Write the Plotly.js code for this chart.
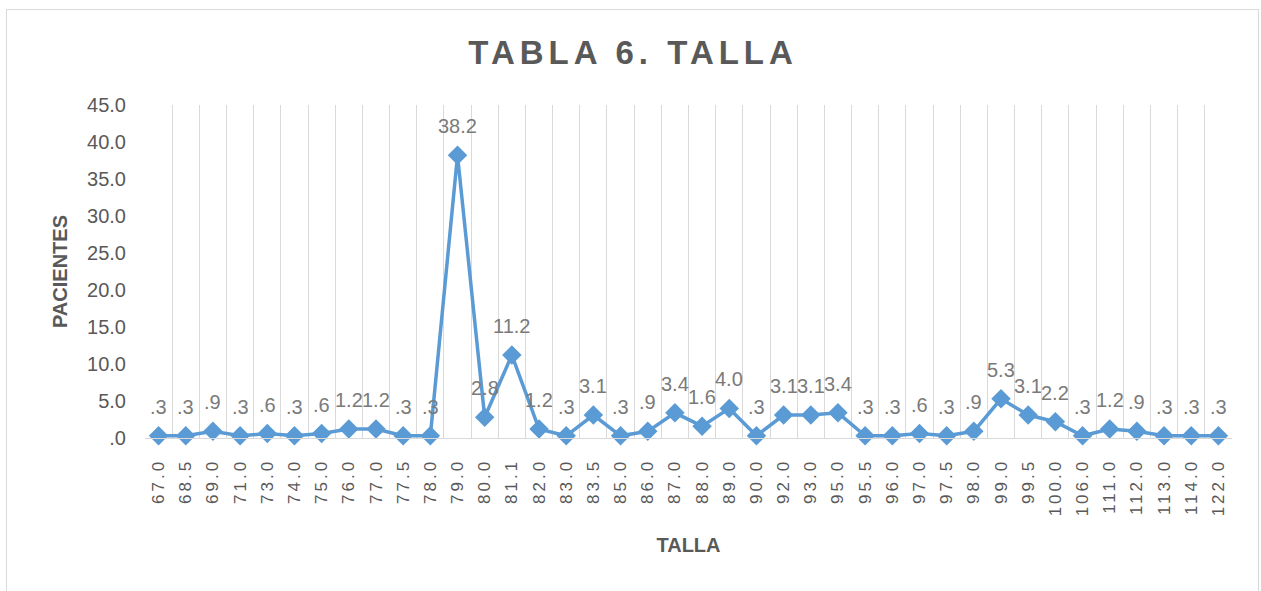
<!DOCTYPE html>
<html>
<head>
<meta charset="utf-8">
<script src="https://cdn.plot.ly/plotly-3.0.1.min.js"></script>
<style>
  html, body { margin: 0; padding: 0; background: #fff; }
  #wrap { position: relative; width: 1261px; height: 591px; }
  #chart { width: 1261px; height: 591px; }
  #frame { position: absolute; left: 6px; top: 9px; width: 1251px; height: 600px; border: 1px solid #d9d9d9; pointer-events: none; }
  .xtick text { letter-spacing: 3px; }
  .gtitle { letter-spacing: 5px; }
</style>
</head>
<body>
<div id="wrap">
  <div id="chart"></div>
  <div id="frame"></div>
</div>
<script>
const categories = ["67.0","68.5","69.0","71.0","73.0","74.0","75.0","76.0","77.0","77.5","78.0","79.0","80.0","81.1","82.0","83.0","83.5","85.0","86.0","87.0","88.0","89.0","90.0","92.0","93.0","95.0","95.5","96.0","97.0","97.5","98.0","99.0","99.5","100.0","106.0","111.0","112.0","113.0","114.0","122.0"];
const pacientes = [0.3,0.3,0.9,0.3,0.6,0.3,0.6,1.2,1.2,0.3,0.3,38.2,2.8,11.2,1.2,0.3,3.1,0.3,0.9,3.4,1.6,4.0,0.3,3.1,3.1,3.4,0.3,0.3,0.6,0.3,0.9,5.3,3.1,2.2,0.3,1.2,0.9,0.3,0.3,0.3];
const yTickVals = [0,5,10,15,20,25,30,35,40,45];
const yTickText = [".0","5.0","10.0","15.0","20.0","25.0","30.0","35.0","40.0","45.0"];

function fmt(v) {
  const s = v.toFixed(1);
  return s.startsWith("0") ? s.slice(1) : s;
}

const trace = {
  type: "scatter",
  mode: "lines+markers",
  x: categories,
  y: pacientes,
  line: { color: "#5B9BD5", width: 3.5 },
  marker: { symbol: "diamond", size: 15, color: "#5B9BD5" },
  cliponaxis: false,
  hoverinfo: "x+y"
};

// data labels: placed at each category's index on the category axis
const annotations = categories.map((c, i) => ({
  x: i,
  y: pacientes[i],
  xref: "x",
  yref: "y",
  text: fmt(pacientes[i]),
  showarrow: false,
  xanchor: "center",
  yanchor: "bottom",
  yshift: 16,
  font: { family: "Liberation Sans, Arial, sans-serif", size: 20, color: "#7a7a7a" }
}));

const layout = {
  width: 1261,
  height: 591,
  margin: { l: 145, r: 29, t: 105, b: 153 },
  paper_bgcolor: "rgba(0,0,0,0)",
  plot_bgcolor: "#fff",
  showlegend: false,
  annotations: annotations,
  title: {
    text: "<b>TABLA 6. TALLA</b>",
    font: { family: "Liberation Sans, Arial, sans-serif", size: 33, color: "#595959" },
    x: 0.502, xanchor: "center",
    y: 0.912, yanchor: "middle"
  },
  xaxis: {
    type: "category",
    categoryorder: "array",
    categoryarray: categories,
    range: [-0.5, 39.5],
    tickson: "boundaries",
    showgrid: true,
    gridcolor: "#d9d9d9",
    gridwidth: 1,
    showline: true,
    linecolor: "#d9d9d9",
    linewidth: 1,
    ticks: "",
    tickangle: -90,
    ticklabelstandoff: 13,
    tickfont: { family: "Liberation Sans, Arial, sans-serif", size: 17, color: "#595959" },
    title: {
      text: "<b>TALLA</b>",
      font: { family: "Liberation Sans, Arial, sans-serif", size: 20, color: "#595959" },
      standoff: 22
    },
    automargin: false,
    zeroline: false
  },
  yaxis: {
    range: [0, 45],
    tickvals: yTickVals,
    ticktext: yTickText,
    showgrid: false,
    zeroline: false,
    showline: false,
    ticks: "",
    ticklabelstandoff: 18,
    tickfont: { family: "Liberation Sans, Arial, sans-serif", size: 20, color: "#595959" },
    title: {
      text: "<b>PACIENTES</b>",
      font: { family: "Liberation Sans, Arial, sans-serif", size: 20, color: "#595959" },
      standoff: 14
    },
    automargin: false
  }
};

Plotly.newPlot("chart", [trace], layout, { displayModeBar: false, staticPlot: true });
</script>
</body>
</html>
